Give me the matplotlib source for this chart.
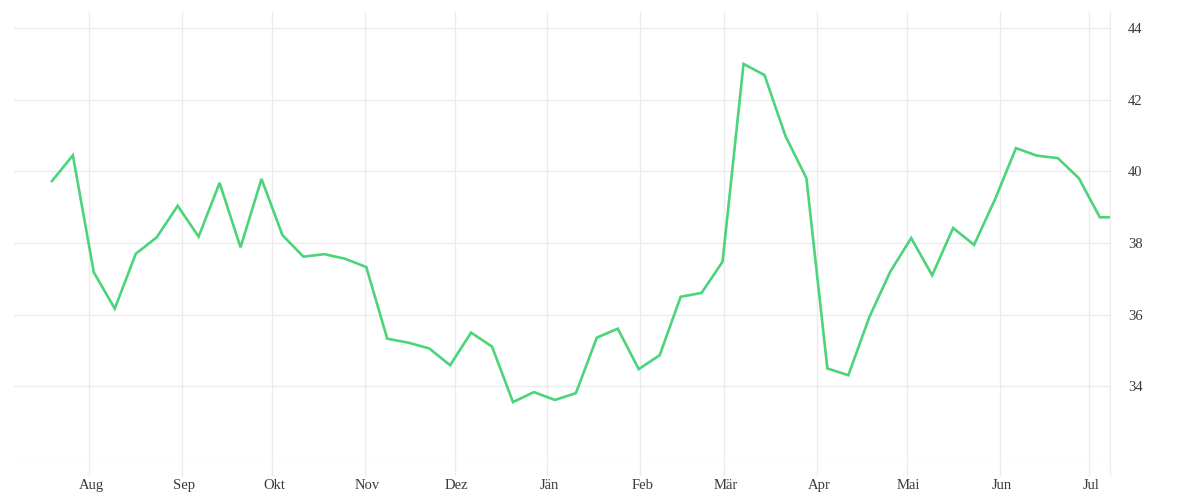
import numpy as np
import pandas as pd
import matplotlib
matplotlib.use('Agg')
import matplotlib.pyplot as plt
import matplotlib.transforms as mtransforms

# weekly values
start_date = '2022-07-19 12:00'
values = [39.73, 40.45, 37.18, 36.17, 37.70, 38.16, 39.04, 38.18, 39.68, 37.88,
          39.79, 38.22, 37.62, 37.69, 37.56, 37.33, 35.33, 35.22, 35.06, 34.59,
          35.50, 35.11, 33.56, 33.84, 33.62, 33.81, 35.36, 35.61, 34.48, 34.87,
          36.50, 36.61, 37.48, 43.00, 42.69, 40.99, 39.81, 34.50, 34.31, 35.93,
          37.20, 38.14, 37.10, 38.42, 37.95, 39.22, 40.65, 40.44, 40.37, 39.81,
          38.72, 38.72]
month_labels = ['Aug', 'Sep', 'Okt', 'Nov', 'Dez', 'Jän', 'Feb', 'Mär',
                'Apr', 'Mai', 'Jun', 'Jul']
y_ticks = [32, 34, 36, 38, 40, 42, 44]

dates = pd.date_range(start_date, periods=len(values), freq='7D')
month_ticks = pd.date_range('2022-08-01', periods=len(month_labels), freq='MS')

grid_col = '#ececec'
text_col = '#3a3a3a'
line_col = '#4cd47a'

plt.rcParams['font.family'] = ['Liberation Serif', 'DejaVu Serif']

fig = plt.figure(figsize=(12, 5), dpi=100)
ax = fig.add_axes([0.0117, 0.084, 0.9133, 0.892])

ax.plot(dates, values, color=line_col, lw=1.9, solid_joinstyle='miter')

aug1 = pd.Timestamp('2022-08-01')
x_left = aug1 - pd.Timedelta(days=25.15)
x_right = aug1 + pd.Timedelta(days=340.9)
ax.set_xlim(x_left, x_right)
ax.set_ylim(32, 44.45)

ax.set_xticks(list(month_ticks) + [x_right])
ax.set_xticklabels(month_labels + [''])
ax.yaxis.tick_right()
ax.set_yticks(y_ticks)
ax.set_yticklabels([''] + [str(v) for v in y_ticks[1:]])

ax.grid(True, color=grid_col, lw=1)
ax.set_axisbelow(True)
for s in ax.spines.values():
    s.set_visible(False)
ax.spines['right'].set_visible(True)
ax.spines['right'].set_color(grid_col)

ax.tick_params(axis='x', length=13, color=grid_col, width=1, pad=2,
               labelsize=10.5, labelcolor=text_col)
ax.tick_params(axis='y', length=0, pad=13, labelsize=10.5, labelcolor=text_col)

# month labels sit a touch right of their gridline
shift = mtransforms.ScaledTranslation(2 / 100, 0, fig.dpi_scale_trans)
for lbl in ax.get_xticklabels():
    lbl.set_transform(lbl.get_transform() + shift)

fig.savefig('out.png', dpi=100)
